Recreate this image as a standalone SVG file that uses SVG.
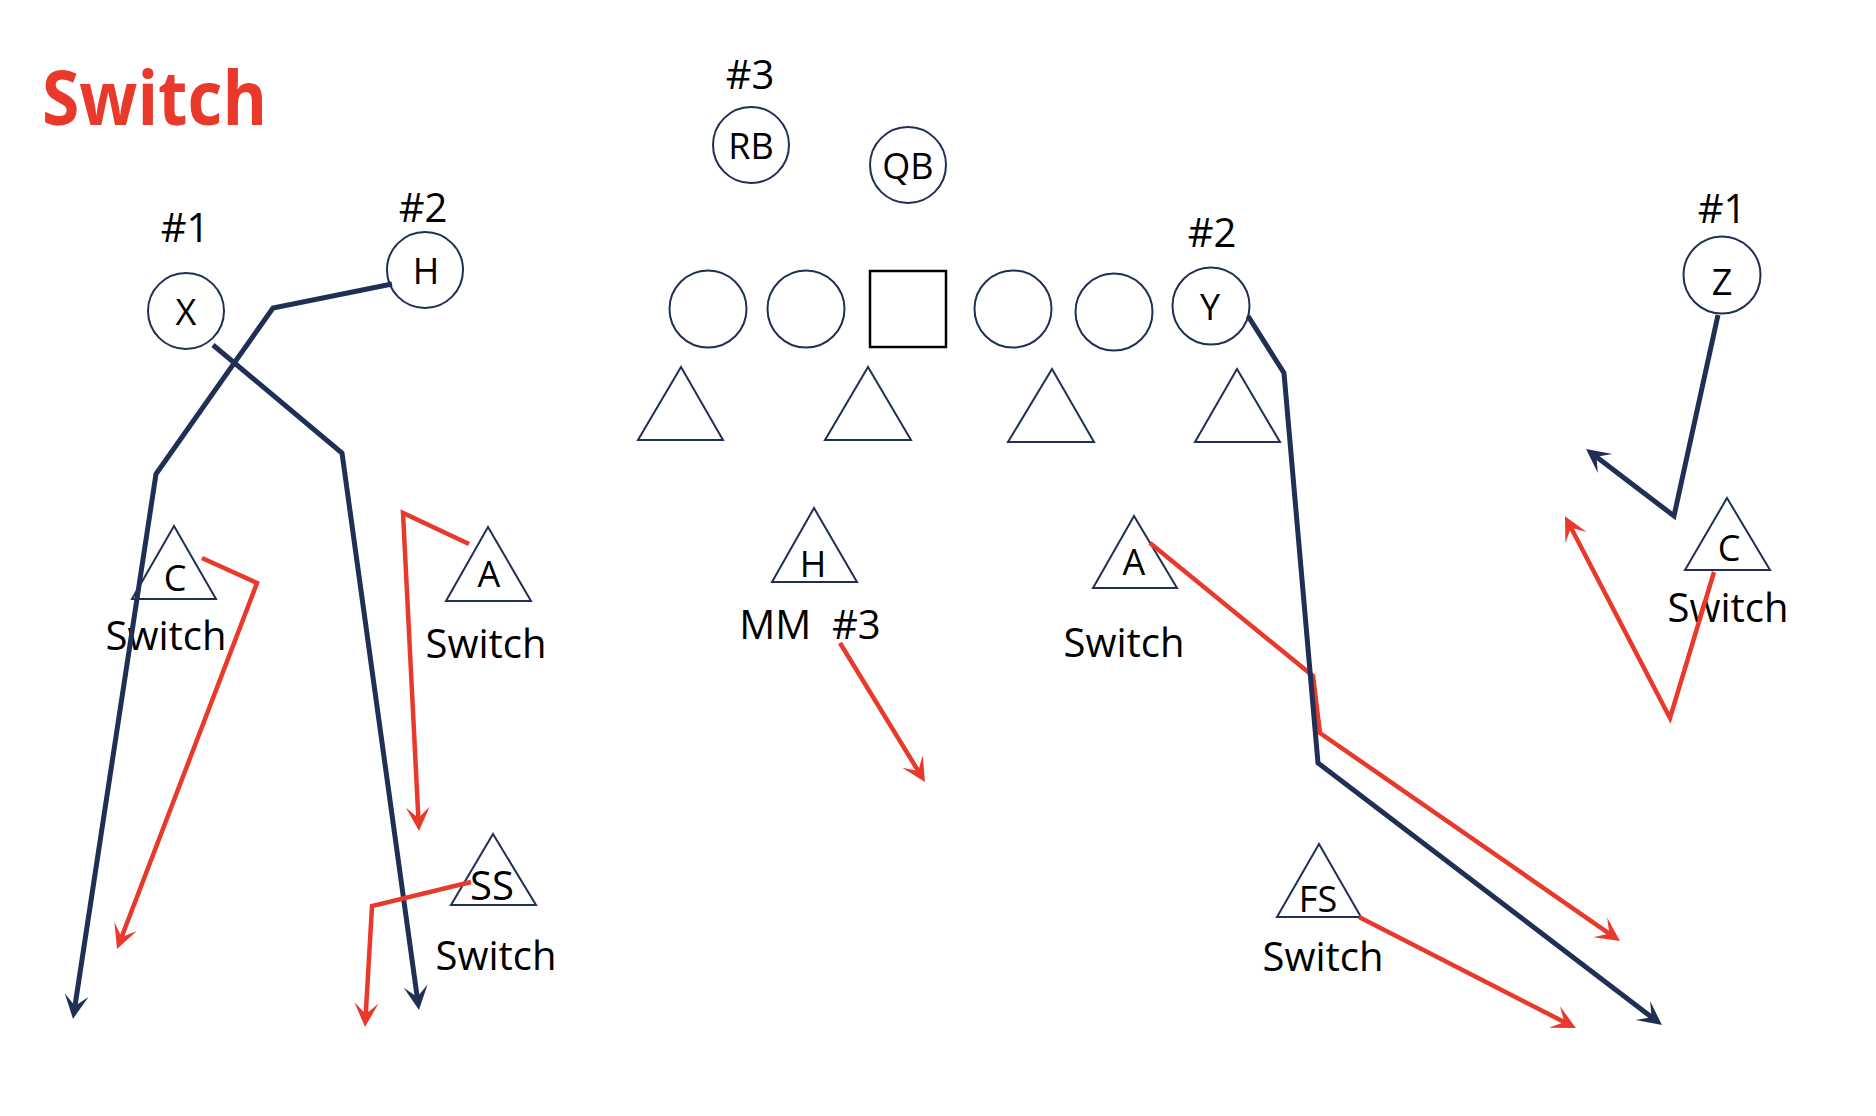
<svg xmlns="http://www.w3.org/2000/svg" width="1876" height="1116" viewBox="0 0 1876 1116">
<style>
.bg{fill:#fff}
.pl{fill:#fff;stroke:#1f2f56;stroke-width:2}
.sq{fill:#fff;stroke:#000;stroke-width:2.5}
.t{font-family:"Open Sans","Noto Sans",sans-serif;fill:#000;text-anchor:middle}
.nm{font-size:36px}
.num{font-size:40px}
.sw{font-size:40px}
.title{font-family:"Open Sans","Noto Sans",sans-serif;font-weight:bold;font-size:76px;fill:#e8392b}
.rn{fill:none;stroke:#1f2f56;stroke-width:5;stroke-linejoin:miter}
.rr{fill:none;stroke:#e8392b;stroke-width:4.5;stroke-linejoin:miter}
</style>
<defs>
<marker id="an" markerUnits="userSpaceOnUse" viewBox="-15 -13 27 26" markerWidth="27" markerHeight="26" refX="0" refY="0" orient="auto">
<path d="M10,0 L-14,-12 L-3,0 L-14,12 Z" fill="#1f2f56"/>
</marker>
<marker id="ar" markerUnits="userSpaceOnUse" viewBox="-15 -13 27 26" markerWidth="27" markerHeight="26" refX="0" refY="0" orient="auto">
<path d="M10,0 L-14,-12 L-3,0 L-14,12 Z" fill="#e8392b"/>
</marker>
</defs>
<rect class="bg" x="0" y="0" width="1876" height="1116"/>
<text id="title" class="title" x="42" y="125" textLength="225" lengthAdjust="spacingAndGlyphs">Switch</text>

<g id="offense">
<g id="X"><text class="t num" x="185" y="242">#1</text><circle class="pl" cx="186" cy="311" r="38"/><text class="t nm" x="186" y="325">X</text></g>
<g id="H-wing"><text class="t num" x="423" y="222">#2</text><circle class="pl" cx="425" cy="270" r="38"/><text class="t nm" x="426" y="284">H</text></g>
<g id="RB"><text class="t num" x="750" y="89">#3</text><circle class="pl" cx="751" cy="145" r="38"/><text class="t nm" x="751" y="159">RB</text></g>
<g id="QB"><circle class="pl" cx="908" cy="165" r="38"/><text class="t nm" x="908" y="179">QB</text></g>
<g id="OL1"><circle class="pl" cx="708" cy="309" r="38.5"/></g>
<g id="OL2"><circle class="pl" cx="806" cy="309" r="38.5"/></g>
<g id="C-center"><rect class="sq" x="870" y="271" width="76" height="76"/></g>
<g id="OL3"><circle class="pl" cx="1013" cy="309" r="38.5"/></g>
<g id="OL4"><circle class="pl" cx="1114" cy="312" r="38.5"/></g>
<g id="Y"><text class="t num" x="1212" y="247">#2</text><circle class="pl" cx="1211" cy="306" r="38.5"/><text class="t nm" x="1210" y="320">Y</text></g>
<g id="Z"><text class="t num" x="1722" y="223">#1</text><circle class="pl" cx="1722" cy="275" r="38.5"/><text class="t nm" x="1722" y="295">Z</text></g>
</g>

<g id="defense">
<g id="DL1"><path class="pl" d="M681,367 L723,440 L638,440 Z"/></g>
<g id="DL2"><path class="pl" d="M868,367 L911,440 L825,440 Z"/></g>
<g id="DL3"><path class="pl" d="M1052,369 L1094,442 L1008,442 Z"/></g>
<g id="DL4"><path class="pl" d="M1237,369 L1280,442 L1195,442 Z"/></g>
<g id="C-left"><path class="pl" d="M174,526 L216,599 L132,599 Z"/><text class="t nm" x="175" y="591">C</text><text class="t sw" x="166" y="650">Switch</text></g>
<g id="A-left"><path class="pl" d="M488,527 L531,601 L446,601 Z"/><text class="t nm" x="489" y="587">A</text><text class="t sw" x="486" y="658">Switch</text></g>
<g id="SS"><path class="pl" d="M493,834 L536,905 L451,905 Z"/><text class="t" style="font-size:40px" x="492" y="900">SS</text><text class="t sw" x="496" y="970">Switch</text></g>
<g id="H-MM"><path class="pl" d="M814,508 L857,582 L772,582 Z"/><text class="t nm" x="813" y="577">H</text><text class="t sw" x="810" y="639" xml:space="preserve">MM  #3</text></g>
<g id="A-mid"><path class="pl" d="M1134,516 L1177,588 L1093,588 Z"/><text class="t nm" x="1134" y="575">A</text><text class="t sw" x="1124" y="657">Switch</text></g>
<g id="FS"><path class="pl" d="M1319,844 L1361,917 L1277,917 Z"/><text class="t" style="font-size:36px" x="1318" y="912">FS</text><text class="t sw" x="1323" y="971">Switch</text></g>
<g id="C-right"><path class="pl" d="M1727,498 L1770,570 L1685,570 Z"/><text class="t nm" x="1729" y="561">C</text><text class="t sw" x="1728" y="622">Switch</text></g>
</g>

<g id="connectors">
<polyline class="rn" points="392,284 273,308 156,474 74.5,1009" marker-end="url(#an)"/>
<polyline class="rn" points="213,345 342,453 417.6,1000" marker-end="url(#an)"/>
<polyline class="rr" points="202,558 257,583 120.6,939.7" marker-end="url(#ar)"/>
<polyline class="rr" points="469,544 403,513 418.5,821" marker-end="url(#ar)"/>
<polyline class="rr" points="471,882 372,906 365.6,1017" marker-end="url(#ar)"/>
<polyline class="rr" points="840,643 919.8,773.5" marker-end="url(#ar)"/>
<polyline class="rr" points="1150,543 1313,676 1320,733 1611.8,935.3" marker-end="url(#ar)"/>
<polyline class="rn" points="1248,316 1284,373 1318,763 1654,1019" marker-end="url(#an)"/>
<polyline class="rr" points="1359,917 1567,1023.4" marker-end="url(#ar)"/>
<polyline class="rn" points="1718,315 1674,516 1594,455" marker-end="url(#an)"/>
<polyline class="rr" points="1714,572 1670,718 1569.6,525" marker-end="url(#ar)"/>
</g>
</svg>
